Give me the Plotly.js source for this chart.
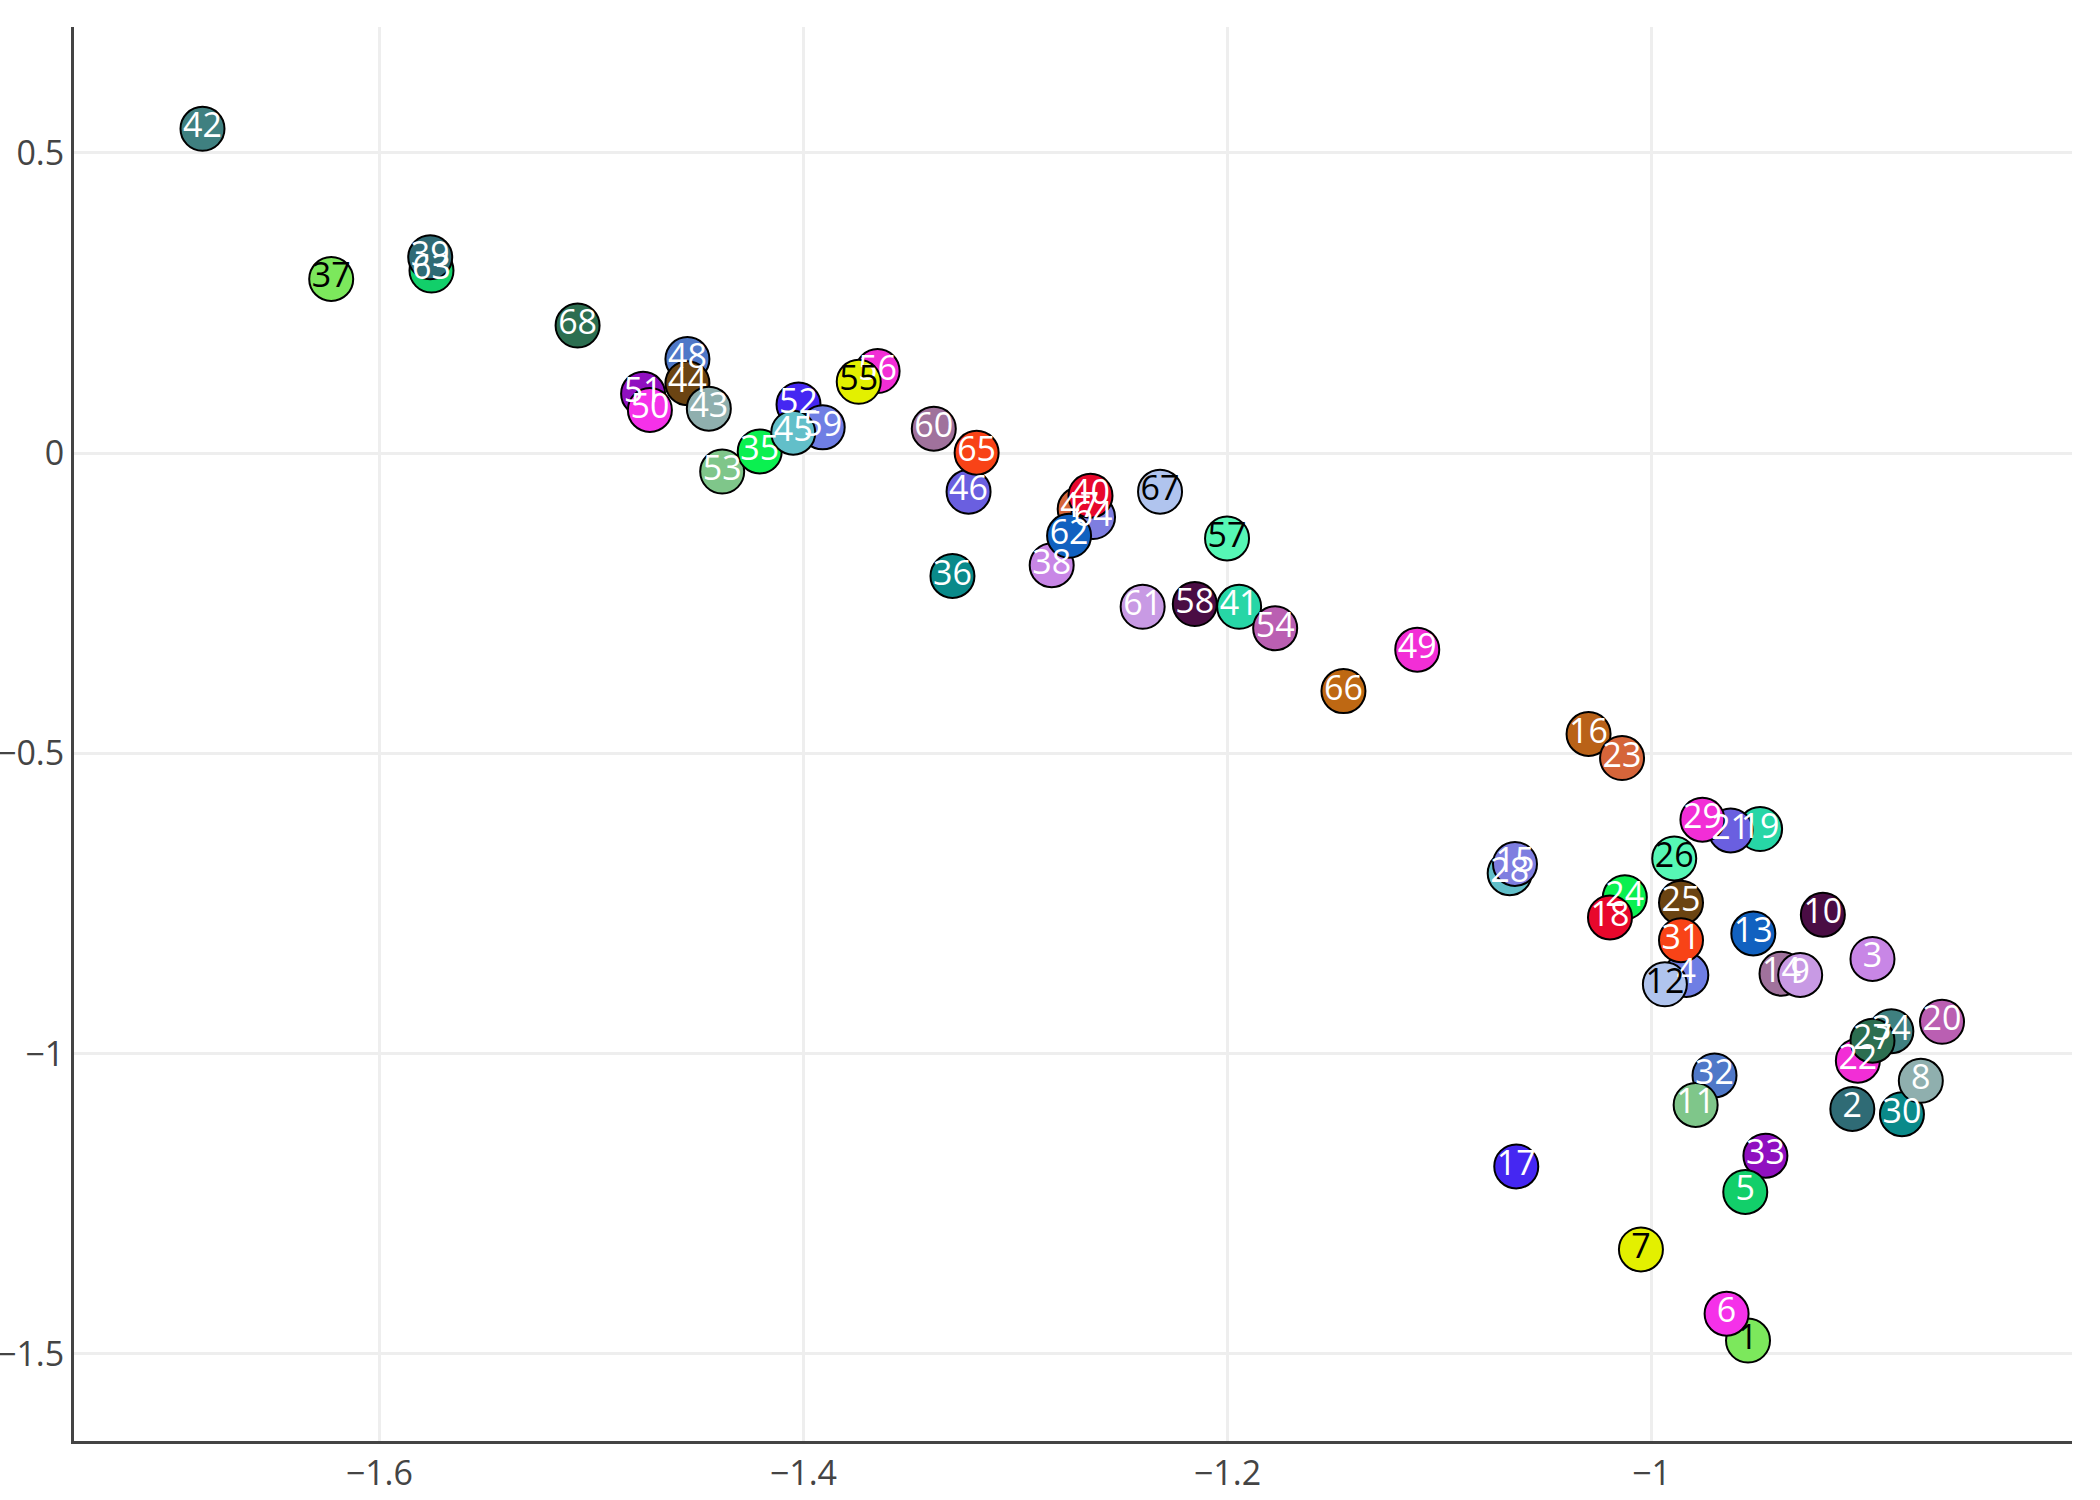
<!DOCTYPE html>
<html>
<head>
<meta charset="utf-8">
<script src="https://cdn.plot.ly/plotly-3.0.1.min.js"></script>
<style>
  html, body { margin: 0; padding: 0; background: #fff; }
  #chart { width: 2100px; height: 1500px; }
</style>
</head>
<body>
<div id="chart"></div>
<script>
// Points listed in drawing order (later points sit on top of earlier ones).
const labels = [
  "42", "37", "68", "60", "36", "67", "57", "61", "66", "49",
  "26", "10", "13", "3", "20", "2", "17", "7", "53", "35",
  "63", "39", "51", "50", "48", "44", "43", "52", "59", "45",
  "56", "55", "46", "65", "47", "64", "38", "40", "62", "58",
  "41", "54", "16", "23", "19", "21", "29", "28", "15", "24",
  "18", "25", "4", "31", "12", "14", "9", "34", "22", "27",
  "30", "8", "32", "11", "33", "5", "1", "6"
];

const xVals = [
  -1.6834, -1.6227, -1.5065, -1.3385, -1.3297, -1.2318, -1.2002, -1.2400, -1.1453, -1.1105,
  -0.9893, -0.9192, -0.9520, -0.8958, -0.8630, -0.9053, -1.0638, -1.0050, -1.4383, -1.4206,
  -1.5754, -1.5760, -1.4756, -1.4724, -1.4547, -1.4547, -1.4446, -1.4023, -1.3909, -1.4048,
  -1.3650, -1.3739, -1.3221, -1.3183, -1.2697, -1.2634, -1.2829, -1.2646, -1.2747, -1.2154,
  -1.1945, -1.1775, -1.0297, -1.0139, -0.9488, -0.9627, -0.9760, -1.0669, -1.0644, -1.0126,
  -1.0196, -0.9861, -0.9836, -0.9861, -0.9937, -0.9387, -0.9299, -0.8869, -0.9027, -0.8958,
  -0.8819, -0.8730, -0.9703, -0.9792, -0.9463, -0.9558, -0.9545, -0.9646
];

const yVals = [
   0.5400,  0.2900,  0.2124,  0.0407, -0.2046, -0.0641, -0.1421, -0.2559, -0.3963, -0.3272,
  -0.6750, -0.7687, -0.7999, -0.8423, -0.9470, -1.0920, -1.1878, -1.3260, -0.0307,  0.0028,
   0.3040,  0.3260,  0.0987,  0.0719,  0.1566,  0.1165,  0.0741,  0.0808,  0.0429,  0.0340,
   0.1366,  0.1187, -0.0641,  0.0006, -0.0930, -0.1065, -0.1867, -0.0708, -0.1377, -0.2514,
  -0.2559, -0.2915, -0.4677, -0.5078, -0.6260, -0.6282, -0.6104, -0.6996, -0.6840, -0.7397,
  -0.7731, -0.7486, -0.8690, -0.8110, -0.8846, -0.8668, -0.8690, -0.9627, -1.0117, -0.9783,
  -1.1009, -1.0452, -1.0362, -1.0853, -1.1700, -1.2302, -1.4777, -1.4331
];

const colors = [
  "#3F8080", "#7CE85C", "#2C6E50", "#A0729C", "#0A8A8A", "#B0C4EE", "#56F7B5", "#C89AE4", "#BE6813", "#F22ED6",
  "#56F7B5", "#4A0D44", "#1161C0", "#C886E6", "#BA5FB2", "#2F6B75", "#4527F2", "#E3F000", "#7FC68A", "#0BF050",
  "#12CF6A", "#2F6B75", "#9010C0", "#F531E9", "#4F78C8", "#6B4412", "#8FAFAE", "#4527F2", "#6F7EE4", "#62BFC9",
  "#F22ED6", "#E3F000", "#6A5FE0", "#F84317", "#D5653A", "#7E7EE0", "#C886E6", "#E8082C", "#1161C0", "#4A0D44",
  "#27D6A6", "#BA5FB2", "#B96218", "#D5653A", "#27D6A6", "#6A5FE0", "#F22ED6", "#62BFC9", "#7E7EE0", "#0BF050",
  "#E8082C", "#6B4412", "#6F7EE4", "#F84317", "#B0C4EE", "#A0729C", "#C89AE4", "#3F8080", "#F22ED6", "#2C6E50",
  "#0A8A8A", "#8FAFAE", "#4F78C8", "#7FC68A", "#9010C0", "#12CF6A", "#7CE85C", "#F531E9"
];

// Dark labels on the pale markers, white labels elsewhere.
const darkLabels = ["37", "67", "57", "26", "7", "55", "12", "1"];
const textColors = labels.map(l => darkLabels.includes(l) ? "#000000" : "#FFFFFF");

const trace = {
  type: "scatter",
  mode: "markers+text",
  x: xVals,
  y: yVals,
  text: labels,
  textposition: "middle center",
  textfont: { family: "Open Sans, sans-serif", size: 34, color: textColors },
  marker: {
    size: 44,
    color: colors,
    opacity: 1,
    line: { color: "#000000", width: 2 }
  },
  hoverinfo: "none",
  showlegend: false
};

const layout = {
  width: 2100,
  height: 1500,
  paper_bgcolor: "#ffffff",
  plot_bgcolor: "#ffffff",
  margin: { l: 74, r: 28, t: 27, b: 59, pad: 0 },
  font: { family: "Open Sans, sans-serif", color: "#444444" },
  xaxis: {
    range: [-1.744, -0.8017],
    tickvals: [-1.6, -1.4, -1.2, -1],
    ticktext: ["\u22121.6", "\u22121.4", "\u22121.2", "\u22121"],
    showgrid: true,
    gridcolor: "#eeeeee",
    gridwidth: 3,
    zeroline: false,
    showline: true,
    linecolor: "#444444",
    linewidth: 3,
    ticks: "",
    tickfont: { size: 34, color: "#444444" },
    automargin: false
  },
  yaxis: {
    range: [-1.645, 0.7096],
    tickvals: [0.5, 0, -0.5, -1, -1.5],
    ticktext: ["0.5", "0", "\u22120.5", "\u22121", "\u22121.5"],
    showgrid: true,
    gridcolor: "#eeeeee",
    gridwidth: 3,
    zeroline: false,
    showline: true,
    linecolor: "#444444",
    linewidth: 3,
    ticks: "",
    tickfont: { size: 34, color: "#444444" },
    automargin: false
  }
};

Plotly.newPlot("chart", [trace], layout, { displayModeBar: false, staticPlot: true });
</script>
</body>
</html>
